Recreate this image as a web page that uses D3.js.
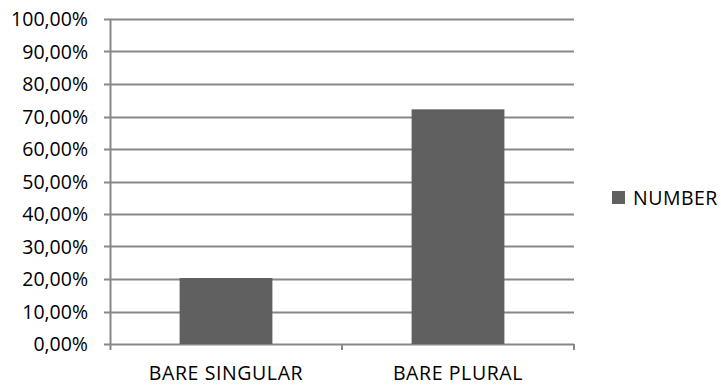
<!DOCTYPE html>
<html>
<head>
<meta charset="utf-8">
<script src="https://cdn.jsdelivr.net/npm/d3@7"></script>
<style>
  html, body { margin: 0; padding: 0; background: #fff; }
  svg { display: block; }
  text { font-family: "Open Sans", Lato, sans-serif; fill: #000; }
</style>
</head>
<body>
<div id="chart"></div>
<script>
// Share of NUMBER by noun type
const categories = ["BARE SINGULAR", "BARE PLURAL"];
const numberValues = [0.203, 0.722];
const seriesName = "NUMBER";
const yTicks = [0, 0.1, 0.2, 0.3, 0.4, 0.5, 0.6, 0.7, 0.8, 0.9, 1.0];

const W = 721, H = 385;
const plot = { left: 110, right: 574, top: 19, bottom: 344 };

const svg = d3.select("#chart").append("svg")
  .attr("width", W).attr("height", H);

const x = d3.scaleBand()
  .domain(categories)
  .range([plot.left, plot.right])
  .paddingInner(0.6)
  .paddingOuter(0.3);

const xGroups = d3.scaleBand()
  .domain(categories)
  .range([plot.left, plot.right])
  .padding(0);

const y = d3.scaleLinear()
  .domain([0, 1])
  .range([plot.bottom, plot.top]);

const fmt = v => d3.format(".2f")(v * 100).replace(".", ",") + "%";

const gridColor = "#878787";

// Horizontal gridlines
svg.append("g")
  .selectAll("line")
  .data(yTicks)
  .join("line")
  .attr("x1", plot.left - 6)
  .attr("x2", plot.right)
  .attr("y1", d => Math.round(y(d)) + 0.5)
  .attr("y2", d => Math.round(y(d)) + 0.5)
  .attr("stroke", gridColor)
  .attr("stroke-width", 2);

// Bars
svg.append("g")
  .selectAll("rect")
  .data(categories.map((c, i) => ({ c, v: numberValues[i] })))
  .join("rect")
  .attr("x", d => x(d.c))
  .attr("width", x.bandwidth())
  .attr("y", d => y(d.v))
  .attr("height", d => y(0) - y(d.v))
  .attr("fill", "#606060");

// Y axis line
svg.append("line")
  .attr("x1", plot.left + 0.5).attr("x2", plot.left + 0.5)
  .attr("y1", plot.top).attr("y2", plot.bottom + 6)
  .attr("stroke", gridColor).attr("stroke-width", 2);

// X axis tick marks at category boundaries
const boundaries = categories.map(c => xGroups(c) + xGroups.bandwidth());
svg.append("g")
  .selectAll("line")
  .data(boundaries)
  .join("line")
  .attr("x1", d => d).attr("x2", d => d)
  .attr("y1", plot.bottom).attr("y2", plot.bottom + 6)
  .attr("stroke", gridColor).attr("stroke-width", 2);

// Y tick labels
svg.append("g")
  .selectAll("text")
  .data(yTicks)
  .join("text")
  .attr("x", 88)
  .attr("y", d => y(d))
  .attr("dy", "0.36em")
  .attr("text-anchor", "end")
  .attr("font-size", 19.5)
  .text(fmt);

// X category labels
svg.append("g")
  .selectAll("text")
  .data(categories)
  .join("text")
  .attr("x", d => xGroups(d) + xGroups.bandwidth() / 2)
  .attr("y", 379.5)
  .attr("text-anchor", "middle")
  .attr("font-size", 19.5)
  .attr("letter-spacing", 0.6)
  .text(d => d);

// Legend
const legend = svg.append("g").attr("transform", "translate(612,191)");
legend.append("rect").attr("width", 13).attr("height", 13).attr("fill", "#606060");
legend.append("text")
  .attr("x", 21).attr("y", 6.5).attr("dy", "0.36em")
  .attr("font-size", 19.5)
  .attr("letter-spacing", 0.5)
  .text(seriesName);
</script>
</body>
</html>
